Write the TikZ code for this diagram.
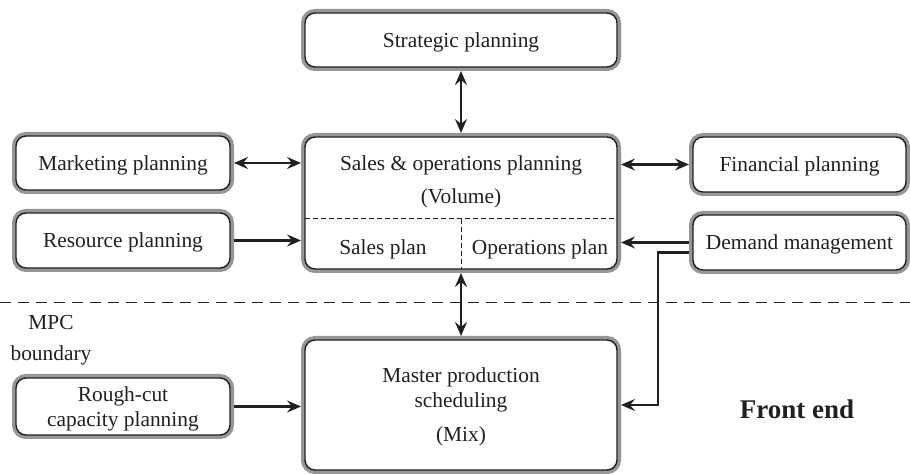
\documentclass[tikz,border=0pt]{standalone}
\usepackage{fontspec}
\setmainfont{Liberation Serif}
\usetikzlibrary{arrows.meta}

\definecolor{boxgray}{RGB}{150,150,150}
\definecolor{ink}{RGB}{35,31,32}

\tikzset{
  plan/.style={draw=ink, line width=0.7pt, fill=white, rounded corners=5pt,
    inner sep=0pt, outer sep=2pt, align=center, text=ink, text depth=-1.5pt,
    font=\fontsize{10.7}{12.5}\selectfont,
    preaction={draw=boxgray, line width=4pt}},
  label/.style={text=ink, align=center, font=\fontsize{10.7}{12.5}\selectfont},
  flow/.style={draw=ink, line width=1.2pt, -{Stealth[length=7pt,width=6pt,inset=2.5pt]}},
  both/.style={flow, {Stealth[length=7pt,width=6pt,inset=2.5pt]}-{Stealth[length=7pt,width=6pt,inset=2.5pt]}},
  divider/.style={draw=ink, line width=0.5pt, dash pattern=on 2.5pt off 1.5pt},
}

\begin{document}
\begin{tikzpicture}[x=0.5pt, y=-0.5pt]
\useasboundingbox (0,0) rectangle (910,474);

% Boundary line
\draw[ink, line width=0.5pt, dash pattern=on 5.5pt off 3.5pt] (0,303) -- (910,303);
\node[label] (mpc) at (51,340) {MPC\\[3pt]boundary};

% Central boxes
\node[plan, minimum width=156pt, minimum height=27pt] (strat) at (461,40) {Strategic planning};
\node[plan, minimum width=156pt, minimum height=66pt] (sop) at (461,203) {};
\node[plan, minimum width=156pt, minimum height=65pt] (mps) at (461,405)
  {Master production\\scheduling\\[4.5pt](Mix)};

% Inside of the S&OP box
\node[label] (soptext) at (461,182) {Sales \& operations planning\\[4pt](Volume)};
\draw[divider] (305,219) -- (617,219);
\draw[divider] (461,219) -- (461,269);
\node[label] (salesplan) at (383,249) {Sales plan};
\node[label] (opsplan) at (540,249) {Operations plan};

% Left boxes
\node[plan, minimum width=107pt, minimum height=27pt] (mkt) at (123,163) {Marketing planning};
\node[plan, minimum width=107pt, minimum height=27.5pt] (res) at (123,240.5) {Resource planning};
\node[plan, minimum width=107pt, minimum height=28.5pt] (rcc) at (123,406.5) {Rough-cut\\capacity planning};

% Right boxes
\node[plan, minimum width=106.5pt, minimum height=27.5pt] (fin) at (799.5,164.5) {Financial planning};
\node[plan, minimum width=106.5pt, minimum height=27.5pt] (dem) at (799.5,242.5) {Demand management};

\node[text=ink, font=\fontsize{13.5}{16}\selectfont\bfseries] (front) at (797,409) {Front end};

% Arrows
\draw[both] (strat) -- (sop);
\draw[both] (sop) -- (mps);
\draw[both] (mkt.east) -- (mkt.east -| sop.west);
\draw[both] (fin.west) -- (fin.west -| sop.east);
\draw[flow] (res.east) -- (res.east -| sop.west);
\draw[flow] (dem.west) -- (dem.west -| sop.east);
\draw[flow] (rcc.east) -- (rcc.east -| mps.west);
\coordinate (turn) at (658,405);
\draw[flow] ([yshift=-5pt]dem.west) -| (turn) -- (mps.east);

\end{tikzpicture}
\end{document}
